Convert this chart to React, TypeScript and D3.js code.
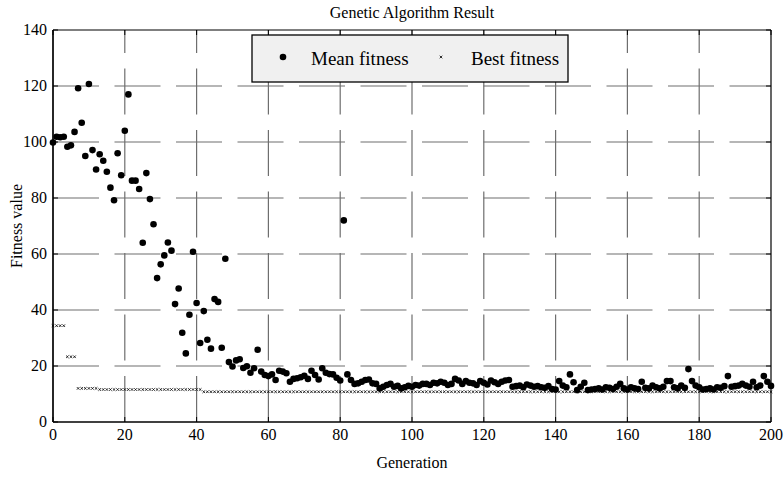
import React, { useEffect, useRef } from "react";
import * as d3 from "d3";

// Mean fitness for generation 0..200
const meanFitness = [
  99.8, 101.9, 101.7, 101.9, 98.3, 98.8, 103.6, 119.2, 106.9, 95.0,
  120.7, 97.1, 90.2, 95.6, 93.3, 89.4, 83.7, 79.2, 96.0, 88.1,
  104.0, 117.0, 86.2, 86.2, 83.2, 64.0, 88.9, 79.6, 70.6, 51.4,
  56.3, 59.5, 64.1, 61.2, 42.1, 47.7, 31.9, 24.5, 38.3, 60.8,
  42.5, 28.2, 39.6, 29.4, 26.2, 43.9, 42.9, 26.5, 58.3, 21.4,
  19.8, 22.0, 22.4, 19.3, 19.9, 17.6, 19.2, 25.8, 18.0, 16.8,
  16.4, 17.0, 15.0, 18.3, 18.0, 17.4, 14.4, 15.4, 15.6, 16.0,
  16.5, 15.4, 18.3, 16.8, 15.2, 19.2, 17.6, 17.1, 17.0, 15.8,
  14.8, 72.0, 17.0, 15.0, 13.6, 13.8, 14.4, 15.0, 15.2, 13.8,
  13.6, 12.0, 12.6, 13.2, 13.6, 12.6, 12.9, 12.0, 12.4, 12.9,
  12.6, 13.2, 13.0, 13.6, 13.6, 13.2, 14.0, 13.8, 14.4, 14.0,
  13.2, 13.6, 15.4, 14.8, 13.6, 14.6, 14.0, 13.8, 13.2, 14.6,
  14.0, 13.4, 14.8, 14.2, 13.6, 14.4, 14.8, 15.0, 12.6, 12.8,
  13.0, 12.4, 13.4, 13.0, 12.6, 12.8, 12.4, 12.2, 12.8, 11.8,
  11.6, 14.6, 13.0, 12.4, 17.0, 14.2, 11.4, 12.6, 14.0, 11.4,
  11.6, 11.8, 12.0, 11.6, 12.4, 12.2, 11.8, 12.6, 13.6, 12.0,
  11.6, 12.4, 12.0, 11.8, 14.4, 12.2, 12.0, 13.0, 12.4, 12.0,
  12.6, 14.6, 14.6, 12.4, 12.0, 13.0, 12.2, 18.9, 14.6, 13.0,
  12.4, 11.6, 11.8, 12.0, 11.6, 12.4, 12.2, 12.8, 16.4, 12.6,
  12.8, 13.0, 13.6, 13.0, 12.6, 14.4, 12.4, 13.0, 16.4, 14.4,
  12.9,
];

// Best fitness: value held over a run of generations [from, to]
const bestRuns = [
  { from: 0, to: 3, value: 34.4 },
  { from: 4, to: 6, value: 23.3 },
  { from: 7, to: 12, value: 12.0 },
  { from: 13, to: 41, value: 11.6 },
  { from: 42, to: 200, value: 10.8 },
];

const xTicks = [0, 20, 40, 60, 80, 100, 120, 140, 160, 180, 200];
const yTicks = [0, 20, 40, 60, 80, 100, 120, 140];

const FONT = "'Liberation Serif', 'Times New Roman', serif";

const App = () => {
  const svgRef = useRef(null);

  useEffect(() => {
    const width = 784;
    const height = 488;
    const svg = d3.select(svgRef.current);
    svg.selectAll("*").remove();
    svg.attr("width", width).attr("height", height);

    svg.append("rect").attr("width", width).attr("height", height).attr("fill", "white");

    const x = d3.scaleLinear().domain([0, 200]).range([53, 771]);
    const y = d3.scaleLinear().domain([0, 140]).range([422, 30]);

    const bestFitness = [];
    bestRuns.forEach(r => {
      for (let g = r.from; g <= r.to; g++) bestFitness.push({ g, v: r.value });
    });

    // Grid (dashed, MATLAB style)
    const grid = svg.append("g")
      .attr("stroke", "#6e6e6e")
      .attr("stroke-width", 1.2)
      .attr("stroke-dasharray", "46,15.5");

    xTicks.slice(1, -1).forEach(t => {
      grid.append("line")
        .attr("x1", x(t)).attr("x2", x(t))
        .attr("y1", y(0)).attr("y2", y(140));
    });
    yTicks.slice(1, -1).forEach(t => {
      grid.append("line")
        .attr("x1", x(0)).attr("x2", x(200))
        .attr("y1", y(t)).attr("y2", y(t));
    });

    // Best fitness markers
    const cross = 1.3;
    svg.append("g")
      .attr("stroke", "black")
      .attr("stroke-width", 0.8)
      .selectAll("path")
      .data(bestFitness)
      .join("path")
      .attr("d", d => {
        const cx = x(d.g), cy = y(d.v);
        return `M${cx - cross},${cy - cross}L${cx + cross},${cy + cross}M${cx - cross},${cy + cross}L${cx + cross},${cy - cross}`;
      });

    // Mean fitness dots
    svg.append("g")
      .selectAll("circle")
      .data(meanFitness)
      .join("circle")
      .attr("cx", (d, i) => x(i))
      .attr("cy", d => y(d))
      .attr("r", 3.3)
      .attr("fill", "black");

    // Axes box
    const box = svg.append("g").attr("stroke", "black").attr("fill", "none");
    box.append("line").attr("x1", x(0)).attr("x2", x(0)).attr("y1", y(0)).attr("y2", y(140)).attr("stroke-width", 1.7);
    box.append("line").attr("x1", x(0)).attr("x2", x(200)).attr("y1", y(0)).attr("y2", y(0)).attr("stroke-width", 1.7);
    box.append("line").attr("x1", x(0)).attr("x2", x(200)).attr("y1", y(140)).attr("y2", y(140)).attr("stroke-width", 1.2);
    box.append("line").attr("x1", x(200)).attr("x2", x(200)).attr("y1", y(0)).attr("y2", y(140)).attr("stroke-width", 1.2);

    // Inward ticks
    xTicks.forEach(t => {
      box.append("line").attr("x1", x(t)).attr("x2", x(t)).attr("y1", y(0)).attr("y2", y(0) - 5).attr("stroke-width", 1);
      box.append("line").attr("x1", x(t)).attr("x2", x(t)).attr("y1", y(140)).attr("y2", y(140) + 5).attr("stroke-width", 1);
    });
    yTicks.forEach(t => {
      box.append("line").attr("x1", x(0)).attr("x2", x(0) + 5).attr("y1", y(t)).attr("y2", y(t)).attr("stroke-width", 1);
      box.append("line").attr("x1", x(200)).attr("x2", x(200) - 5).attr("y1", y(t)).attr("y2", y(t)).attr("stroke-width", 1);
    });

    // Tick labels
    svg.append("g")
      .selectAll("text")
      .data(xTicks)
      .join("text")
      .attr("x", d => x(d))
      .attr("y", 440)
      .attr("text-anchor", "middle")
      .style("font-family", FONT)
      .style("font-size", "16px")
      .text(d => d);

    svg.append("g")
      .selectAll("text")
      .data(yTicks)
      .join("text")
      .attr("x", 47)
      .attr("y", d => y(d) + 5)
      .attr("text-anchor", "end")
      .style("font-family", FONT)
      .style("font-size", "16px")
      .text(d => d);

    // Title and axis labels
    svg.append("text")
      .attr("x", 412)
      .attr("y", 18)
      .attr("text-anchor", "middle")
      .style("font-family", FONT)
      .style("font-size", "16px")
      .text("Genetic Algorithm Result");

    svg.append("text")
      .attr("x", 412)
      .attr("y", 468)
      .attr("text-anchor", "middle")
      .style("font-family", FONT)
      .style("font-size", "16px")
      .text("Generation");

    svg.append("text")
      .attr("transform", "rotate(-90)")
      .attr("x", -226)
      .attr("y", 22)
      .attr("text-anchor", "middle")
      .style("font-family", FONT)
      .style("font-size", "16px")
      .text("Fitness value");

    // Legend
    const legend = svg.append("g");
    legend.append("rect")
      .attr("x", 252).attr("y", 35)
      .attr("width", 316).attr("height", 47)
      .attr("fill", "#f0f0f0")
      .attr("stroke", "black")
      .attr("stroke-width", 1.3);

    legend.append("circle").attr("cx", 283).attr("cy", 57).attr("r", 3.3).attr("fill", "black");
    legend.append("text")
      .attr("x", 311).attr("y", 65)
      .style("font-family", FONT)
      .style("font-size", "19px")
      .text("Mean fitness");

    legend.append("path")
      .attr("d", `M${441 - cross},${57 - cross}L${441 + cross},${57 + cross}M${441 - cross},${57 + cross}L${441 + cross},${57 - cross}`)
      .attr("stroke", "black")
      .attr("stroke-width", 0.8);
    legend.append("text")
      .attr("x", 471).attr("y", 65)
      .style("font-family", FONT)
      .style("font-size", "19px")
      .text("Best fitness");
  }, []);

  return (
    <div style={{ position: "absolute", left: 0, top: 0 }}>
      <svg ref={svgRef} style={{ display: "block" }}></svg>
    </div>
  );
};

export default App;
